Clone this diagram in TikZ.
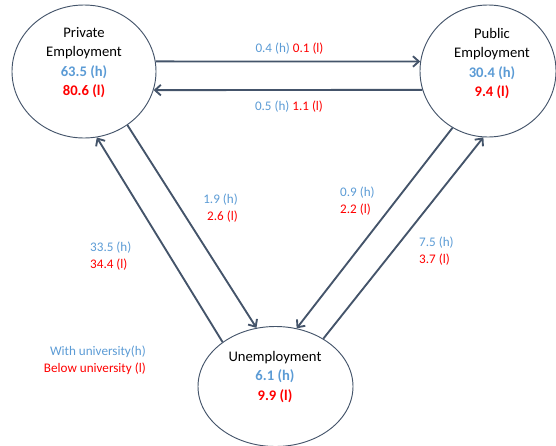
\documentclass[tikz,border=0pt]{standalone}
\usepackage{fontspec}
\setmainfont{Carlito}
\usetikzlibrary{shapes.geometric,arrows.meta}
\definecolor{hblue}{HTML}{5B9BD5}
\definecolor{lred}{HTML}{FF0000}
\definecolor{slate}{HTML}{44546A}

\begin{document}
\begin{tikzpicture}[
  x=0.03cm, y=-0.03cm,
  state/.style={ellipse, draw=slate, line width=0.8pt, inner sep=0pt},
  statetext/.style={align=center, inner sep=0pt, font=\fontsize{12.5}{16.6}\selectfont},
  flow/.style={draw=slate, line width=1.6pt, -{Straight Barb[length=5pt,width=9pt]}},
  rate/.style={inner sep=0pt, font=\fontsize{11.2}{14.5}\selectfont}
]
  \useasboundingbox (0,0) rectangle (556,446);

  \node[state, minimum width=4.32cm, minimum height=3.99cm] (priv) at (84,71.5) {};
  \node[state, minimum width=4.08cm, minimum height=3.96cm] (pub) at (488,71) {};
  \node[state, minimum width=4.65cm, minimum height=3.6cm] (unem) at (275.5,386.5) {};

  \node[statetext] (privtext) at (84,62.5) {Private\\Employment\\\textcolor{hblue}{\textbf{63.5 (h)}}\\\textcolor{lred}{\textbf{80.6 (l)}}};
  \node[statetext] (pubtext) at (492,63.5) {Public\\Employment\\\textcolor{hblue}{\textbf{30.4 (h)}}\\\textcolor{lred}{\textbf{9.4 (l)}}};
  \node[statetext] (unemtext) at (275,377) {Unemployment\\\textcolor{hblue}{\textbf{6.1 (h)}}\\\textcolor{lred}{\textbf{9.9 (l)}}};

  \draw[flow] (priv.8) -- (pub.172);
  \draw[flow] (pub.196) -- (priv.345);
  \draw[flow] (priv.309) -- (unem.108);
  \draw[flow] (unem.140) -- (priv.281);
  \draw[flow] (pub.238) -- (unem.70);
  \draw[flow] (unem.45) -- (pub.266);

  \node[rate] (privpub) at (289.5,49) {\textcolor{hblue}{0.4 (h)} \textcolor{lred}{0.1 (l)}};
  \node[rate] (pubpriv) at (289,107) {\textcolor{hblue}{0.5 (h)} \textcolor{lred}{1.1 (l)}};
  \node[rate, align=right, anchor=east] (privunem) at (238,208.5) {\textcolor{hblue}{1.9 (h)}\\\textcolor{lred}{2.6 (l)}};
  \node[rate, align=left, anchor=west] (unempriv) at (90,256.5) {\textcolor{hblue}{33.5 (h)}\\\textcolor{lred}{34.4 (l)}};
  \node[rate, align=left, anchor=west] (pubunem) at (340,201) {\textcolor{hblue}{0.9 (h)}\\\textcolor{lred}{2.2 (l)}};
  \node[rate, align=left, anchor=west] (unempub) at (419,251) {\textcolor{hblue}{7.5 (h)}\\\textcolor{lred}{3.7 (l)}};

  \node[rate, align=right, anchor=east] (legend) at (146,360.5) {\textcolor{hblue}{With university(h)}\\\textcolor{lred}{Below university (l)}};
\end{tikzpicture}
\end{document}
